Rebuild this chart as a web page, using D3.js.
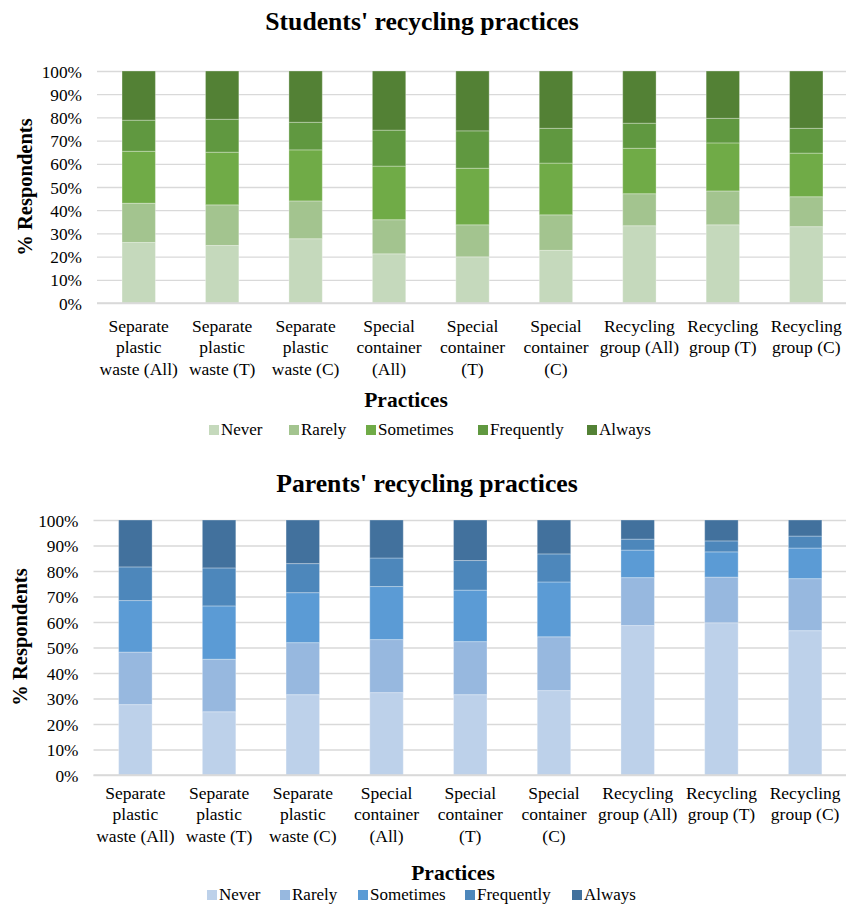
<!DOCTYPE html>
<html>
<head>
<meta charset="utf-8">
<script src="https://cdn.jsdelivr.net/npm/d3@7"></script>
<style>
  body { margin: 0; background: #fff; }
  svg text { font-family: "Liberation Serif", "Times New Roman", serif !important; fill: #000; }
</style>
</head>
<body>
<div id="chart"></div>
<script>
// categories and tick labels
const categories = [
    "Separate plastic waste (All)", "Separate plastic waste (T)", "Separate plastic waste (C)",
    "Special container (All)", "Special container (T)", "Special container (C)",
    "Recycling group (All)", "Recycling group (T)", "Recycling group (C)"
];
const categoryLines = [
    ["Separate", "plastic", "waste (All)"], ["Separate", "plastic", "waste (T)"], ["Separate", "plastic", "waste (C)"],
    ["Special", "container", "(All)"], ["Special", "container", "(T)"], ["Special", "container", "(C)"],
    ["Recycling", "group (All)"], ["Recycling", "group (T)"], ["Recycling", "group (C)"]
];
const responses = ["Never", "Rarely", "Sometimes", "Frequently", "Always"];
const yTickValues = [0, 10, 20, 30, 40, 50, 60, 70, 80, 90, 100];

// students (% respondents)
const studentsNever      = [26.1, 24.8, 27.7, 21.2, 19.9, 22.7, 33.3, 33.7, 32.9];
const studentsRarely     = [16.9, 17.5, 16.3, 14.7, 13.8, 15.3, 13.8, 14.6, 12.9];
const studentsSometimes  = [22.4, 22.7, 22.0, 23.1, 24.4, 22.3, 19.6, 20.7, 18.8];
const studentsFrequently = [13.4, 14.2, 11.9, 15.5, 16.1, 15.0, 10.8, 10.6, 10.7];
const studentsAlways     = [21.2, 20.8, 22.1, 25.5, 25.8, 24.7, 22.5, 20.4, 24.7];

// parents (% respondents)
const parentsNever      = [27.6, 24.8, 31.5, 32.3, 31.5, 33.1, 58.6, 59.7, 56.6];
const parentsRarely     = [20.6, 20.6, 20.4, 20.8, 20.8, 21.1, 18.8, 17.9, 20.4];
const parentsSometimes  = [20.2, 20.9, 19.6, 20.8, 20.2, 21.5, 10.8,  9.9, 12.0];
const parentsFrequently = [13.2, 14.9, 11.4, 11.2, 11.6, 11.0,  4.3,  4.3,  4.7];
const parentsAlways     = [18.4, 18.8, 17.1, 14.9, 15.9, 13.3,  7.5,  8.2,  6.3];

const greens = ["#c5d9bc", "#a3c48f", "#70ab47", "#609840", "#538135"];
const blues  = ["#bdd1ea", "#97b8df", "#5b9bd5", "#4d87bb", "#42719d"];

const FONT = '"Liberation Serif", "Times New Roman", serif';
const W = 846, H = 908;
const svg = d3.select("#chart").append("svg")
    .attr("width", W)
    .attr("height", H)
    .style("font-family", FONT);

function buildRows(series) {
    return categories.map((c, i) => {
        const row = { category: c };
        responses.forEach((r, j) => row[r] = series[j][i]);
        return row;
    });
}

function drawChart(cfg) {
    const rows = buildRows(cfg.series);
    const stacked = d3.stack().keys(responses)(rows);

    const x = d3.scaleBand()
        .domain(categories)
        .range([cfg.left, cfg.right])
        .paddingInner(0.6)
        .paddingOuter(0.3);

    const y = d3.scaleLinear()
        .domain([0, 100])
        .range([cfg.bottom, cfg.top]);

    const g = svg.append("g");

    // title
    g.append("text")
        .attr("x", cfg.titleX)
        .attr("y", cfg.titleY)
        .attr("text-anchor", "middle")
        .style("font-size", "25.7px")
        .style("font-weight", "bold")
        .text(cfg.title);

    // gridlines + y labels
    const yAxis = g.append("g")
        .attr("transform", `translate(${cfg.left},0)`)
        .call(d3.axisLeft(y)
            .tickValues(yTickValues)
            .tickSize(-(cfg.right - cfg.left))
            .tickPadding(cfg.tickPad)
            .tickFormat(d => d + "%"));
    yAxis.attr("font-family", null).attr("font-size", null);
    yAxis.select(".domain").remove();
    yAxis.selectAll(".tick line")
        .attr("stroke", "#d9d9d9")
        .attr("stroke-width", 1.3);
    yAxis.selectAll(".tick text")
        .style("font-family", FONT)
        .style("font-size", "17.3px")
        .attr("dy", "0.35em");

    // bars
    g.selectAll(".layer")
        .data(stacked)
        .join("g")
        .attr("class", "layer")
        .attr("fill", (d, i) => cfg.colors[i])
        .selectAll("rect")
        .data(d => d)
        .join("rect")
        .attr("x", d => x(d.data.category))
        .attr("width", x.bandwidth())
        .attr("y", d => y(d[1]))
        .attr("height", d => y(d[0]) - y(d[1]))
        .attr("stroke", "#ffffff")
        .attr("stroke-opacity", 0.3)
        .attr("stroke-width", 1);

    // baseline
    g.append("line")
        .attr("x1", cfg.left).attr("x2", cfg.right)
        .attr("y1", y(0)).attr("y2", y(0))
        .attr("stroke", "#d9d9d9")
        .attr("stroke-width", 1.6);

    // category labels
    const xAxis = g.append("g")
        .attr("transform", `translate(0,${cfg.bottom})`)
        .call(d3.axisBottom(x).tickSize(0).tickFormat(""));
    xAxis.attr("font-family", null).attr("font-size", null);
    xAxis.select(".domain").remove();
    xAxis.selectAll(".tick").each(function (d) {
        const i = categories.indexOf(d);
        const t = d3.select(this).append("text")
            .attr("text-anchor", "middle")
            .style("font-family", FONT)
            .style("font-size", "17.5px")
            .attr("y", cfg.labelY);
        categoryLines[i].forEach((line, k) => {
            t.append("tspan")
                .attr("x", 0)
                .attr("dy", k === 0 ? 0 : 21.3)
                .text(line);
        });
    });

    // y title
    g.append("text")
        .attr("transform", `translate(${cfg.yTitleX},${cfg.yTitleY}) rotate(-90)`)
        .attr("text-anchor", "middle")
        .style("font-size", "20.5px")
        .style("font-weight", "bold")
        .text("% Respondents");

    // x title
    g.append("text")
        .attr("x", cfg.xTitleX)
        .attr("y", cfg.xTitleY)
        .attr("text-anchor", "middle")
        .style("font-size", "21.5px")
        .style("font-weight", "bold")
        .text("Practices");

    // legend
    const leg = g.append("g");
    responses.forEach((r, i) => {
        const item = leg.append("g")
            .attr("transform", `translate(${cfg.legendX[i]},${cfg.legendY})`);
        item.append("rect")
            .attr("x", 0).attr("y", -10)
            .attr("width", 10).attr("height", 10)
            .attr("fill", cfg.colors[i]);
        item.append("text")
            .attr("x", 12)
            .attr("y", 0)
            .style("font-size", "17px")
            .text(r);
    });
}

drawChart({
    title: "Students' recycling practices",
    titleX: 422, titleY: 30,
    series: [studentsNever, studentsRarely, studentsSometimes, studentsFrequently, studentsAlways],
    colors: greens,
    left: 97, right: 848, top: 71, bottom: 303,
    tickPad: 15,
    labelY: 29,
    yTitleX: 32, yTitleY: 187,
    xTitleX: 406, xTitleY: 407,
    legendX: [209, 289, 366, 478, 587], legendY: 435
});

drawChart({
    title: "Parents' recycling practices",
    titleX: 427, titleY: 492,
    series: [parentsNever, parentsRarely, parentsSometimes, parentsFrequently, parentsAlways],
    colors: blues,
    left: 93.5, right: 847, top: 520, bottom: 775,
    tickPad: 15,
    labelY: 24,
    yTitleX: 27, yTitleY: 637,
    xTitleX: 453, xTitleY: 880,
    legendX: [207, 280, 358, 465, 572], legendY: 900
});
</script>
</body>
</html>
